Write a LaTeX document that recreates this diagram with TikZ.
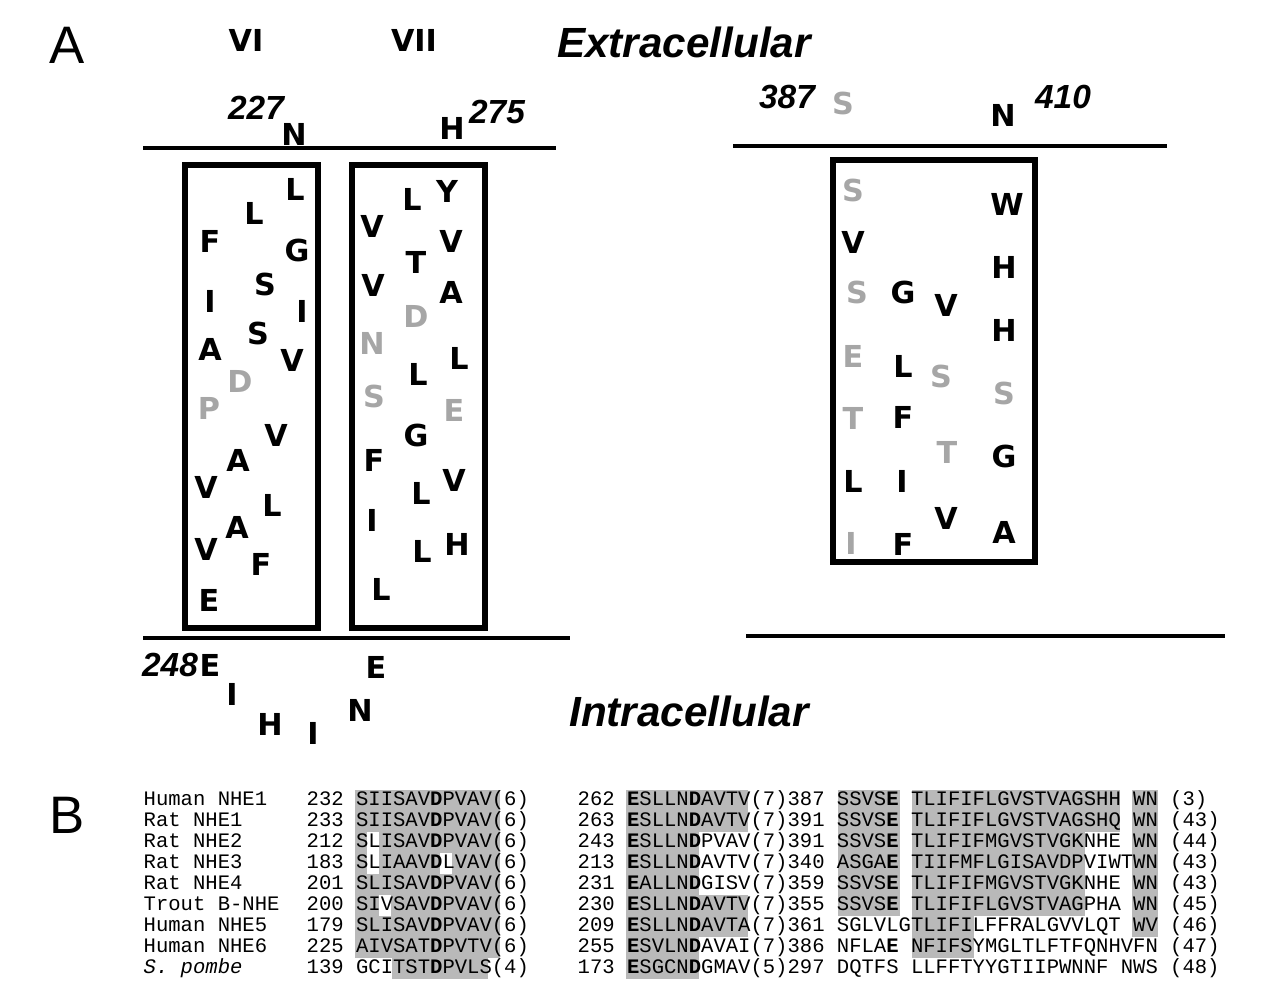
\documentclass[tikz,border=0pt]{standalone}
\usepackage{fontspec}
\setmainfont{DejaVu Sans}
\newfontfamily\monofont{Liberation Mono}
\newfontfamily\labfont{Liberation Sans}

\tikzset{
  res/.style={font=\bfseries\fontsize{8.6}{10}\selectfont},
  hres/.style={res, text=gray!70},
  seqtxt/.style={font=\monofont\fontsize{5.85}{7}\selectfont, anchor=base west, inner sep=0pt},
  shade/.style={fill=gray!55, draw=none},
  mem/.style={line width=1.3pt},
  helix/.style={line width=1.6pt},
  big/.style={font=\labfont\bfseries\itshape\fontsize{12}{14}\selectfont},
  num/.style={font=\labfont\bfseries\itshape\fontsize{9.5}{11}\selectfont}
}

\begin{document}
\begin{tikzpicture}[x=0.01cm, y=-0.01cm]
        \useasboundingbox (0,0) rectangle (1269,988);
        % membranes and helices
        \draw[mem] (143,148) -- (556,148);
        \draw[mem] (143,638) -- (570,638);
        \draw[mem] (733,146) -- (1167,146);
        \draw[mem] (746,636) -- (1225,636);
        \draw[helix] (185,165) rectangle (318,628);
        \draw[helix] (352,165) rectangle (485,628);
        \draw[helix] (833,160) rectangle (1035,562);
        % labels
        \node (pa) at (67,45) {\labfont\fontsize{15}{16}\selectfont A};
        \node (pb) at (67,815) {\labfont\fontsize{15}{16}\selectfont B};
        \node[res] (tm6) at (246,40) {VI};
        \node[res] (tm7) at (414,40) {VII};
        \node[big] (extra) at (684,42) {Extracellular};
        \node[big] (intra) at (689,711) {Intracellular};
        \node[num] (n227) at (256,108) {227};
        \node[num] (n275) at (497,112) {275};
        \node[num] (n387) at (787,97) {387};
        \node[num] (n410) at (1063,97) {410};
        \node[num] (n248) at (170,665) {248};
        % residues outside the helices
        \foreach \l/\x/\y in {N/294/134, H/452/128, N/1003/115, E/210/665, I/232/694,
            H/270/724, I/313/733, N/360/710, E/376/667}
          \node[res] at (\x,\y) {\l};
        \node[hres] at (843,103) {S};
        % helix VI
        \foreach \l/\x/\y in {F/210/241, L/254/213, L/295/189, G/297/250, S/265/284,
            I/210/301, I/302/311, S/258/333, A/210/349, V/292/360, V/276/435,
            A/238/460, V/206/487, L/272/505, A/237/527, V/206/549, F/261/564, E/209/600}
          \node[res] at (\x,\y) {\l};
        \foreach \l/\x/\y in {D/240/381, P/209/408}
          \node[hres] at (\x,\y) {\l};
        % helix VII
        \foreach \l/\x/\y in {V/372/226, L/412/199, Y/447/191, V/373/285, T/416/262,
            V/451/241, A/451/292, L/459/358, L/418/374, G/416/435, F/374/460,
            V/454/480, L/421/493, I/372/520, H/457/544, L/422/551, L/381/589}
          \node[res] at (\x,\y) {\l};
        \foreach \l/\x/\y in {D/416/316, N/372/343, S/374/396, E/454/410}
          \node[hres] at (\x,\y) {\l};
        % third segment
        \foreach \l/\x/\y in {W/1007/204, V/853/242, H/1004/267, G/903/292, V/946/305,
            H/1004/330, L/903/366, F/903/417, G/1004/456, L/853/481, I/902/481,
            V/946/518, A/1004/532, F/903/544}
          \node[res] at (\x,\y) {\l};
        \foreach \l/\x/\y in {S/853/190, S/857/292, E/853/356, S/941/376, S/1004/393,
            T/853/418, T/947/452, I/851/543}
          \node[hres] at (\x,\y) {\l};
        % alignment shading
        \fill[shade] (355,790) rectangle (500,958);
        \fill[shade] (392,958) rectangle (488,979);
        \fill[white] (367,832) rectangle (379,874);
        \fill[white] (440,853) rectangle (452,874);
        \fill[white] (379,895) rectangle (391,916);
        \fill[shade] (626,790) rectangle (699,979);
        \fill[shade] (699,790) rectangle (748,832);
        \fill[shade] (699,895) rectangle (748,937);
        \fill[shade] (838,790) rectangle (900,916);
        \fill[shade] (912,790) rectangle (1120,832);
        \fill[shade] (912,832) rectangle (1085,916);
        \fill[shade] (912,916) rectangle (974,958);
        \fill[shade] (1132,790) rectangle (1158,937);
        % alignment text
        \foreach \name/\a/\b/\i in {Human NHE1/232 SIISAV\textbf{D}PVAV(6)/262 \textbf{E}SLLN\textbf{D}AVTV(7)387 SSVS\textbf{E} TLIFIFLGVSTVAGSHH WN (3)/0,
            Rat NHE1/233 SIISAV\textbf{D}PVAV(6)/263 \textbf{E}SLLN\textbf{D}AVTV(7)391 SSVS\textbf{E} TLIFIFLGVSTVAGSHQ WN (43)/1,
            Rat NHE2/212 SLISAV\textbf{D}PVAV(6)/243 \textbf{E}SLLN\textbf{D}PVAV(7)391 SSVS\textbf{E} TLIFIFMGVSTVGKNHE WN (44)/2,
            Rat NHE3/183 SLIAAV\textbf{D}LVAV(6)/213 \textbf{E}SLLN\textbf{D}AVTV(7)340 ASGA\textbf{E} TIIFMFLGISAVDPVIWTWN (43)/3,
            Rat NHE4/201 SLISAV\textbf{D}PVAV(6)/231 \textbf{E}ALLN\textbf{D}GISV(7)359 SSVS\textbf{E} TLIFIFMGVSTVGKNHE WN (43)/4,
            Trout B-NHE/200 SIVSAV\textbf{D}PVAV(6)/230 \textbf{E}SLLN\textbf{D}AVTV(7)355 SSVS\textbf{E} TLIFIFLGVSTVAGPHA WN (45)/5,
            Human NHE5/179 SLISAV\textbf{D}PVAV(6)/209 \textbf{E}SLLN\textbf{D}AVTA(7)361 SGLVLGTLIFILFFRALGVVLQT WV (46)/6,
            Human NHE6/225 AIVSAT\textbf{D}PVTV(6)/255 \textbf{E}SVLN\textbf{D}AVAI(7)386 NFLA\textbf{E} NFIFSYMGLTLFTFQNHVFN (47)/7,
            \textit{S. pombe}/139 GCITST\textbf{D}PVLS(4)/173 \textbf{E}SGCN\textbf{D}GMAV(5)297 DQTFS LLFFTYYGTIIPWNNF NWS (48)/8} {
          \node[seqtxt] (nm\i) at (143,805+21*\i) {\name};
          \node[seqtxt] (sa\i) at (306,805+21*\i) {\a};
          \node[seqtxt] (sb\i) at (577,805+21*\i) {\b};
        }
\end{tikzpicture}
\end{document}
